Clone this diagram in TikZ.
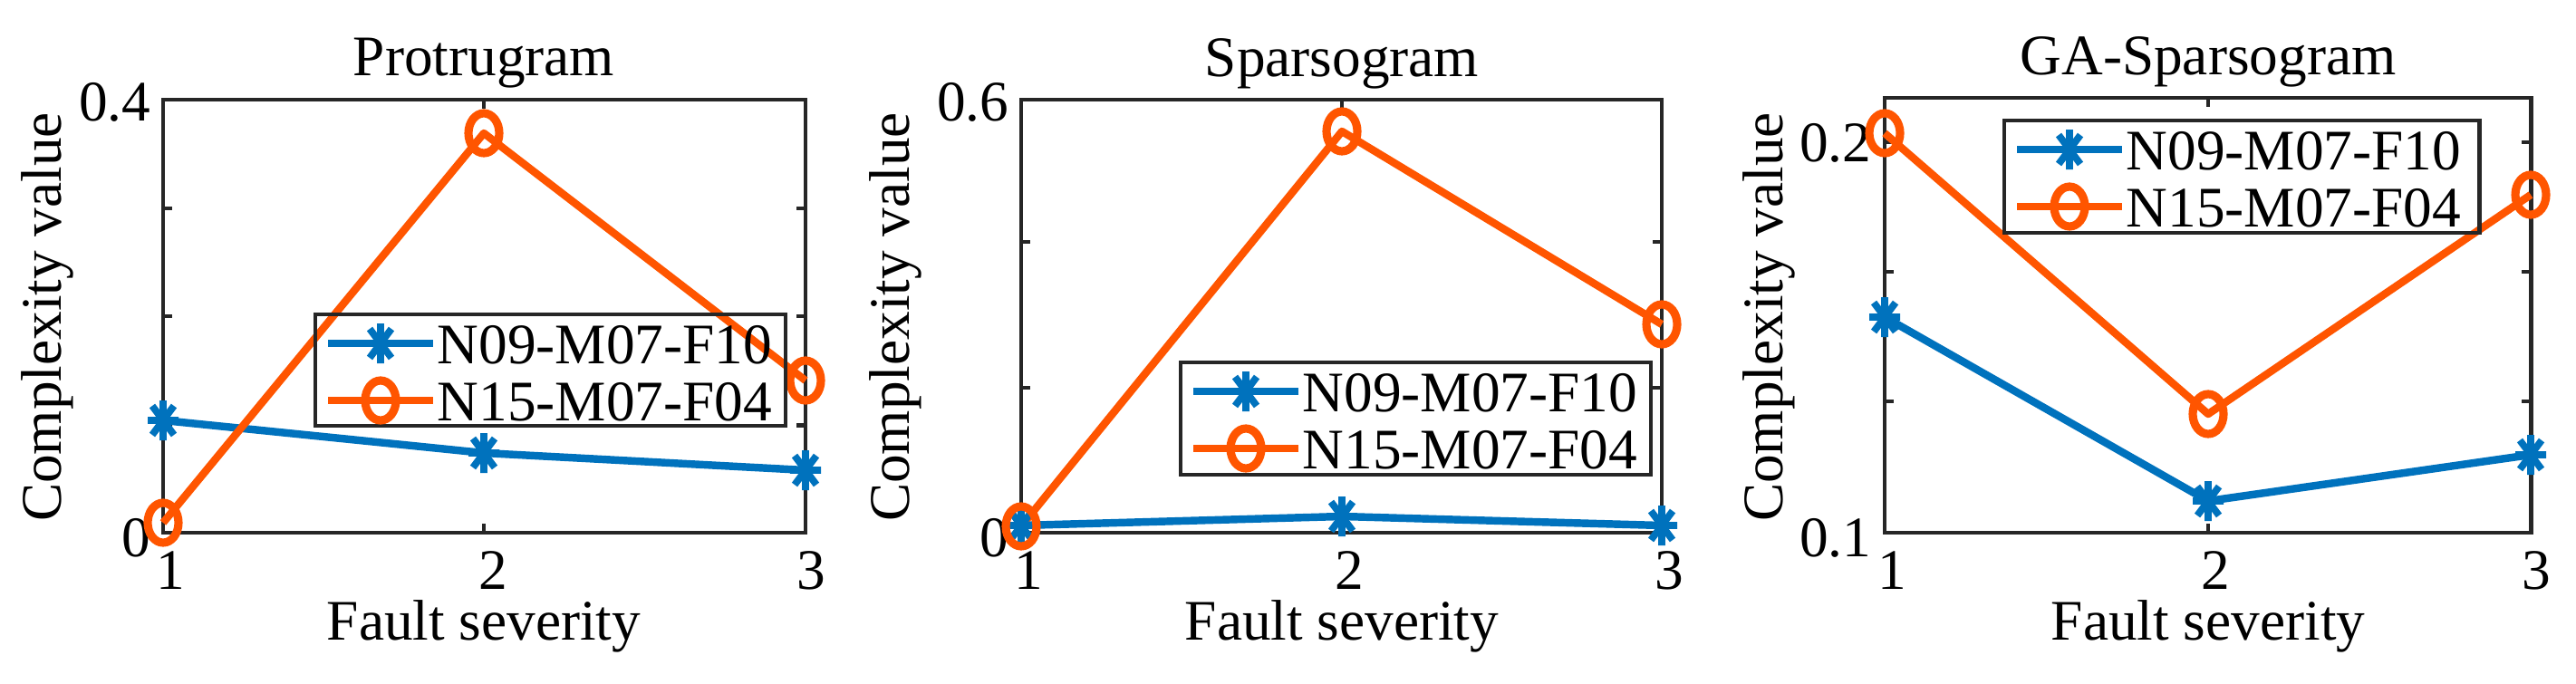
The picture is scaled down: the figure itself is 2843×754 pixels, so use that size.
\documentclass[tikz,border=0pt]{standalone}
\usepackage{fontspec}
\setmainfont{Liberation Serif}
\definecolor{mblue}{RGB}{0,114,189}
\definecolor{morange}{RGB}{255,85,0}
\tikzset{
  axbox/.style={draw=black!85, line width=1.4pt},
  tk/.style={draw=black!85, line width=1.2pt},
  bl/.style={draw=mblue, line width=2.4pt, line join=round},
  orl/.style={draw=morange, line width=2.4pt, line join=round},
  txt/.style={font=\fontsize{18}{20}\selectfont, inner sep=0pt},
  lgbox/.style={draw=black!85, line width=1.4pt},
  pics/astm/.style={code={\draw[draw=mblue, line width=2.2pt] (0,-22)--(0,22) (-17,0)--(17,0) (-12,-16)--(12,16) (-12,16)--(12,-16);}},
  pics/circm/.style={code={\draw[draw=morange, line width=2.6pt] (0,0) ellipse [x radius=17, y radius=22];}},
}
\begin{document}
\begin{tikzpicture}[x=0.01cm, y=-0.01cm]
\useasboundingbox (0,0) rectangle (2843,754);
% ===== Panel 1
\draw[axbox] (180,110) rectangle (889,588);
\foreach \yy in {469.5,349,230}{\draw[tk] (180,\yy)--(190,\yy) (889,\yy)--(879,\yy);}
\draw[tk] (534,110)--(534,120) (534,588)--(534,578);
\node[txt] (t1) at (534,70) {Protrugram};
\node[txt, rotate=90] (yl1) at (52,350) {Complexity value};
\node[txt] (xl1) at (534,691) {Fault severity};
\node[txt, anchor=east] (y1a) at (167,594) {0};
\node[txt, anchor=east] (y1b) at (167,113) {0.4};
\node[txt] (x1a) at (188,630) {1};
\node[txt] (x1b) at (544,630) {2};
\node[txt] (x1c) at (895,630) {3};
\coordinate (pb1) at (180,464); \coordinate (pb2) at (534,500); \coordinate (pb3) at (889,519);
\coordinate (po1) at (180,577); \coordinate (po2) at (534,147); \coordinate (po3) at (889,420);
\draw[bl] (pb1)--(pb2)--(pb3);
\draw[orl] (po1)--(po2)--(po3);
\foreach \p in {pb1,pb2,pb3}{\pic at (\p) {astm};}
\foreach \p in {po1,po2,po3}{\pic at (\p) {circm};}
\draw[lgbox] (348,347) rectangle (867,470);
\draw[bl] (362,379)--(478,379); \pic at (420,379) {astm};
\draw[orl] (362,442)--(478,442); \pic at (420,442) {circm};
\node[txt, anchor=west] (l1a) at (482,381) {N09-M07-F10};
\node[txt, anchor=west] (l1b) at (482,444) {N15-M07-F04};
% ===== Panel 2
\draw[axbox] (1127,110) rectangle (1834,588);
\foreach \yy in {428,267}{\draw[tk] (1127,\yy)--(1137,\yy) (1834,\yy)--(1824,\yy);}
\draw[tk] (1481,110)--(1481,120) (1481,588)--(1481,578);
\node[txt] (t2) at (1481,70) {Sparsogram};
\node[txt, rotate=90] (yl2) at (988,350) {Complexity value};
\node[txt] (xl2) at (1481,691) {Fault severity};
\node[txt, anchor=east] (y2a) at (1114,594) {0};
\node[txt, anchor=east] (y2b) at (1114,113) {0.6};
\node[txt] (x2a) at (1135,630) {1};
\node[txt] (x2b) at (1489,630) {2};
\node[txt] (x2c) at (1842,630) {3};
\coordinate (qb1) at (1127,580); \coordinate (qb2) at (1481,570); \coordinate (qb3) at (1834,580);
\coordinate (qo1) at (1127,581); \coordinate (qo2) at (1481,145); \coordinate (qo3) at (1834,358);
\draw[orl] (qo1)--(qo2)--(qo3);
\draw[bl] (qb1)--(qb2)--(qb3);
\foreach \p in {qb1,qb2,qb3}{\pic at (\p) {astm};}
\foreach \p in {qo1,qo2,qo3}{\pic at (\p) {circm};}
\draw[lgbox] (1303,400) rectangle (1822,524);
\draw[bl] (1317,432)--(1433,432); \pic at (1375,432) {astm};
\draw[orl] (1317,495)--(1433,495); \pic at (1375,495) {circm};
\node[txt, anchor=west] (l2a) at (1437,434) {N09-M07-F10};
\node[txt, anchor=west] (l2b) at (1437,497) {N15-M07-F04};
% ===== Panel 3
\draw[axbox] (2080,108) rectangle (2793,588);
\foreach \yy in {443,300,157}{\draw[tk] (2080,\yy)--(2090,\yy) (2793,\yy)--(2783,\yy);}
\draw[tk] (2437,108)--(2437,118) (2437,588)--(2437,578);
\node[txt] (t3) at (2437,68) {GA-Sparsogram};
\node[txt, rotate=90] (yl3) at (1952,350) {Complexity value};
\node[txt] (xl3) at (2437,691) {Fault severity};
\node[txt, anchor=east] (y3a) at (2066,594) {0.1};
\node[txt, anchor=east] (y3b) at (2066,158) {0.2};
\node[txt] (x3a) at (2088,630) {1};
\node[txt] (x3b) at (2445,630) {2};
\node[txt] (x3c) at (2799,630) {3};
\coordinate (rb1) at (2080,350); \coordinate (rb2) at (2437,553); \coordinate (rb3) at (2793,502);
\coordinate (ro1) at (2080,147); \coordinate (ro2) at (2437,457); \coordinate (ro3) at (2793,215);
\draw[bl] (rb1)--(rb2)--(rb3);
\draw[orl] (ro1)--(ro2)--(ro3);
\foreach \p in {rb1,rb2,rb3}{\pic at (\p) {astm};}
\foreach \p in {ro1,ro2,ro3}{\pic at (\p) {circm};}
\draw[lgbox] (2212,133) rectangle (2736,257);
\draw[bl] (2226,165)--(2342,165); \pic at (2284,165) {astm};
\draw[orl] (2226,228)--(2342,228); \pic at (2284,228) {circm};
\node[txt, anchor=west] (l3a) at (2346,167) {N09-M07-F10};
\node[txt, anchor=west] (l3b) at (2346,230) {N15-M07-F04};
\end{tikzpicture}
\end{document}
